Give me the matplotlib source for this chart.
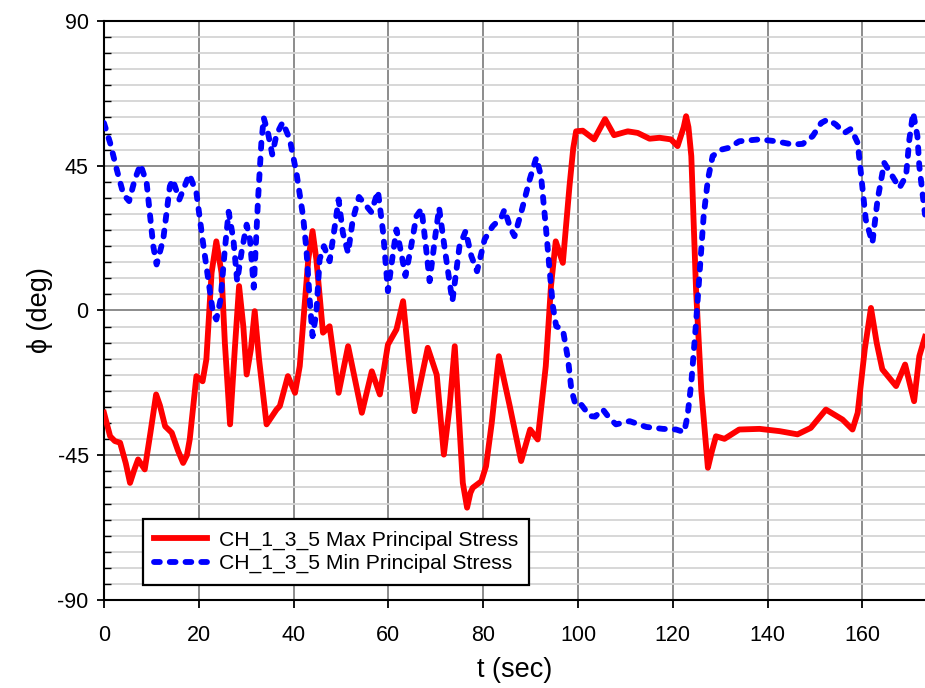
import matplotlib
matplotlib.use('Agg')
import matplotlib.pyplot as plt
import numpy as np

plt.rcParams['font.family'] = ['Liberation Sans', 'DejaVu Sans']

# max principal stress direction, CH_1_3_5
t_max = [0, 1.3, 2.3, 3.4, 4.6, 5.5, 6.4, 7.2, 8.6, 9.8, 11.0, 11.8, 12.9,
         14.3, 15.6, 16.7, 17.5, 18.1, 19.5, 20.8, 21.6, 22.7, 23.7, 24.8,
         25.5, 26.6, 27.6, 28.5, 29.4, 30.1, 31.0, 31.8, 32.7, 34.3, 36.4,
         37.1, 38.8, 40.3, 41.3, 43.1, 44.0, 44.8, 46.2, 47.6, 49.5, 51.5,
         54.4, 56.5, 58.2, 59.9, 61.7, 63.1, 64.3, 65.5, 68.3, 70.2, 71.7,
         72.9, 74.0, 75.7, 76.6, 77.3, 77.8, 79.6, 80.6, 81.8, 83.3, 85.6,
         88.0, 89.9, 91.5, 93.2, 94.3, 95.3, 96.8, 98.2, 99.0, 99.6, 101.0,
         103.4, 105.7, 107.6, 110.5, 112.6, 115.1, 117.2, 119.6, 121.0, 122.3,
         122.8, 123.3, 123.9, 124.9, 126.0, 127.4, 128.2, 129.1, 130.9, 134.0,
         138.3, 142.5, 146.3, 149.1, 152.3, 155.8, 157.9, 159.0, 160.5, 161.8,
         163.0, 164.2, 167.1, 169.0, 170.9, 172.0, 173.2]
phi_max = [-31.8, -39.1, -40.6, -41.1, -47.5, -53.6, -49.5, -46.3, -49.4,
           -38.0, -26.1, -29.5, -36.0, -38.0, -43.5, -47.4, -45.0, -40.0, -20.4,
           -22.0, -15.2, 11.7, 21.5, 11.7, -10.0, -35.4, -12.0, 7.6, -5.0,
           -19.9, -12.0, -0.2, -15.0, -35.4, -30.8, -29.7, -20.4, -25.6, -17.3,
           15.9, 24.7, 15.9, -6.9, -4.9, -25.6, -11.1, -31.8, -18.9, -26.1,
           -10.6, -5.9, 2.9, -15.0, -31.3, -11.6, -20.0, -44.8, -30.0, -11.1,
           -53.6, -61.3, -56.7, -55.1, -53.1, -48.4, -35.0, -14.2, -29.7,
           -46.8, -37.0, -40.1, -17.3, 7.6, 21.5, 14.8, 38.6, 50.5, 55.7,
           55.9, 53.2, 59.5, 54.5, 55.7, 55.2, 53.4, 53.7, 53.2, 51.1, 57.0,
           60.4, 57.0, 48.0, 6.5, -24.6, -48.9, -44.0, -39.1, -39.9, -37.0,
           -36.8, -37.5, -38.5, -36.5, -30.8, -33.9, -37.0, -31.8, -12.0, 0.8,
           -10.0, -18.3, -23.5, -16.8, -28.2, -14.2, -8.2]

# min principal stress direction, CH_1_3_5
t_min = [0, 1.3, 2.7, 4.1, 5.3, 6.5, 7.7, 9.0, 10.4, 11.1, 12.5, 13.9, 14.5,
         15.9, 18.0, 19.5, 20.9, 22.0, 23.0, 23.7, 24.6, 25.5, 26.3, 27.3,
         28.1, 29.0, 30.1, 30.8, 31.6, 32.5, 33.2, 33.7, 34.6, 35.5, 36.4,
         37.7, 39.2, 40.6, 42.0, 42.7, 43.4, 44.0, 44.8, 45.5, 46.4, 47.6,
         48.7, 49.5, 50.4, 51.5, 52.5, 53.8, 55.4, 56.4, 57.8, 58.9, 59.9,
         60.8, 61.7, 62.7, 63.6, 64.8, 65.9, 67.0, 67.9, 68.7, 69.8, 70.7,
         71.9, 73.5, 75.0, 76.3, 77.5, 78.7, 80.3, 82.0, 83.8, 84.5, 85.7,
         86.6, 88.0, 89.8, 91.2, 92.2, 93.2, 94.0, 94.7, 95.4, 96.8, 97.9,
         98.6, 99.5, 100.7, 102.5, 103.6, 105.2, 106.6, 108.0, 110.9, 114.4,
         117.9, 120.7, 122.4, 123.1, 123.9, 124.9, 125.6, 126.5, 127.4, 128.4,
         130.2, 131.9, 134.0, 138.3, 141.8, 145.3, 147.4, 149.5, 151.3, 152.7,
         154.4, 156.2, 157.6, 159.0, 159.9, 160.7, 162.1, 163.2, 164.6, 166.3,
         167.8, 169.2, 169.9, 170.7, 171.6, 172.0, 173.2]
phi_min = [58.3, 52.1, 43.8, 36.1, 34.0, 40.7, 45.4, 39.7, 20.0, 14.3, 22.1,
           38.6, 40.7, 34.5, 42.3, 36.6, 21.0, 9.6, -0.7, -2.8, 3.4, 19.0,
           30.7, 22.1, 9.1, 17.9, 26.7, 22.1, 7.1, 34.5, 52.1, 59.9, 55.2,
           48.5, 54.7, 58.5, 53.2, 42.8, 29.3, 19.0, 3.4, -8.0, -0.7, 15.9,
           20.0, 15.3, 26.2, 34.5, 24.1, 17.9, 28.3, 35.3, 32.4, 30.6, 37.1,
           24.1, 6.0, 15.9, 25.2, 17.9, 10.7, 20.0, 29.3, 31.6, 20.0, 9.1,
           22.1, 31.9, 19.0, 2.9, 20.0, 24.7, 16.9, 12.2, 22.1, 26.2, 28.8,
           31.4, 25.7, 23.1, 30.4, 40.7, 47.5, 41.8, 26.2, 12.7, 1.3, -4.9,
           -5.9, -15.2, -24.6, -29.5, -29.3, -32.8, -33.0, -30.7, -33.4, -35.4,
           -34.4, -36.2, -36.8, -37.0, -37.8, -32.8, -22.5, -3.8, 10.7, 29.3,
           40.7, 48.0, 50.0, 50.6, 52.6, 53.2, 52.6, 51.6, 51.8, 54.2, 58.3,
           59.4, 57.8, 55.2, 56.5, 52.1, 39.7, 28.3, 21.0, 34.5, 45.9, 41.8,
           38.1, 41.8, 53.2, 61.5, 54.2, 44.9, 29.8]

fig = plt.figure(figsize=(9.25, 6.88), dpi=100)
ax = fig.add_axes([0.1124, 0.1279, 0.8876, 0.8416])

ax.plot(t_max, phi_max, color='red', linewidth=4.2, solid_joinstyle='round',
        label='CH_1_3_5 Max Principal Stress', zorder=3)
ax.plot(t_min, phi_min, color='blue', linewidth=4.2, linestyle=(0, (1.0, 1.7)),
        dash_capstyle='round', dash_joinstyle='round',
        label='CH_1_3_5 Min Principal Stress', zorder=3)

ax.set_xlim(0, 173.2)
ax.set_ylim(-90, 90)
ax.set_xticks(np.arange(0, 161, 20))
ax.set_yticks([-90, -45, 0, 45, 90])
ax.set_yticklabels(['-90', '-45', '0', '45', '90'])
ax.set_yticks(np.arange(-90, 91, 5), minor=True)

ax.grid(True, which='minor', axis='y', color='#d4d4d4', linewidth=1.3, zorder=0)
ax.grid(True, which='major', color='#8c8c8c', linewidth=1.4, zorder=1)
ax.set_axisbelow(True)

ax.tick_params(axis='both', which='major', direction='out', width=1.3,
               labelsize=15.5, colors='black')
ax.tick_params(axis='x', which='major', length=6, pad=12)
ax.tick_params(axis='y', which='major', length=5, pad=6)
ax.tick_params(axis='y', which='minor', direction='in', length=5, width=1.0)
ax.tick_params(axis='x', which='minor', bottom=False)

for s in ['left', 'bottom', 'top']:
    ax.spines[s].set_linewidth(1.5)
    ax.spines[s].set_color('black')
ax.spines['right'].set_visible(False)

ax.set_xlabel('t (sec)', fontsize=19.5, labelpad=8)
ax.set_ylabel('\u03d5 (deg)', fontsize=19.5, labelpad=3)

leg = ax.legend(loc='lower left', bbox_to_anchor=(0.047, 0.026), fontsize=15.2,
                frameon=True, fancybox=False, edgecolor='black', framealpha=1,
                handlelength=2.5, handletextpad=0.55, borderpad=0.55,
                labelspacing=0.2, borderaxespad=0)
leg.get_frame().set_linewidth(1.6)

plt.savefig('out.png', dpi=100)
